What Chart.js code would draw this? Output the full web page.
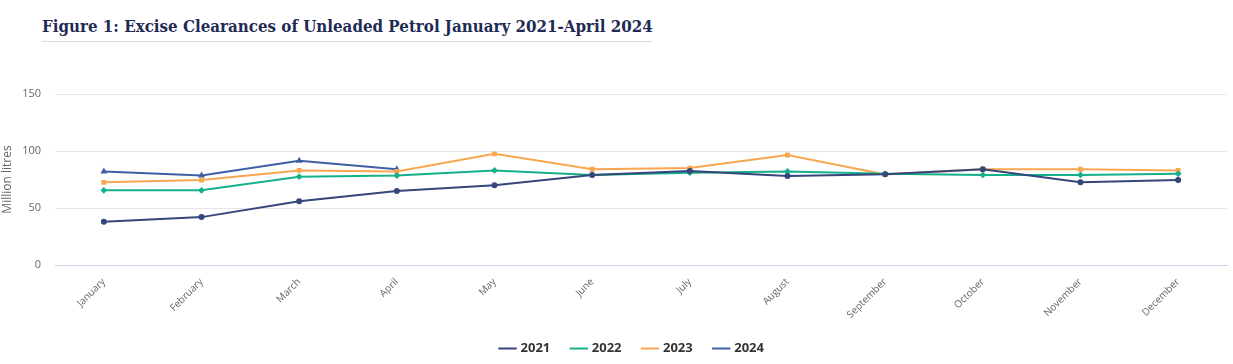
<!DOCTYPE html>
<html>
<head>
    <title>Excise Clearances of Unleaded Petrol</title>
    <script src="https://cdn.jsdelivr.net/npm/chart.js"></script>
    <style>
        body { margin: 0; background: #fff; width: 1233px; height: 364px; overflow: hidden; position: relative; }
        h2 {
            position: absolute; left: 42px; top: 16px; margin: 0;
            width: 610px; padding-bottom: 5px; white-space: nowrap;
            border-bottom: 1px solid #d5dbe4;
            font-family: "DejaVu Serif Condensed", "DejaVu Serif", serif;
            font-stretch: condensed; font-weight: bold; font-size: 16.8px;
            color: #1f2b55;
        }
        .chart-box { position: absolute; left: 0; top: 60px; width: 1233px; height: 305px; }
    </style>
</head>
<body>
    <h2>Figure 1: Excise Clearances of Unleaded Petrol January 2021-April 2024</h2>
    <div class="chart-box">
        <canvas id="petrolChart"></canvas>
    </div>

    <script>
        // Months on the x axis
        var months = ['January', 'February', 'March', 'April', 'May', 'June',
            'July', 'August', 'September', 'October', 'November', 'December'];

        // Million litres per month
        var y2021 = [38, 42, 56, 65, 70, 79, 82.5, 78, 79.5, 84, 72.5, 74.5];
        var y2022 = [65.5, 65.5, 77.5, 78.5, 83, 79, 81, 82, 80, 79, 79, 80];
        var y2023 = [72.5, 74.5, 83, 82, 97.5, 84, 85, 96.5, 79.5, 84, 84, 83];
        var y2024 = [82, 78.5, 91.5, 84];

        var yTicks = [0, 50, 100, 150];

        function serie(label, data, color, shape) {
            return {
                label: label,
                data: data,
                borderColor: color,
                backgroundColor: color,
                borderWidth: 2,
                pointStyle: shape,
                pointRadius: 2,
                pointHoverRadius: 4,
                tension: 0
            };
        }

        // legend sits a bit right of the canvas centre in the original
        var legendShift = {
            id: 'legendShift',
            afterLayout: function (chart) {
                if (chart.legend) {
                    chart.legend.left += 17;
                    chart.legend.right += 17;
                }
            }
        };

        var ctx = document.getElementById('petrolChart').getContext('2d');
        var chart = new Chart(ctx, {
            type: 'line',
            data: {
                labels: months,
                datasets: [
                    serie('2021', y2021, '#34467a', 'circle'),
                    serie('2022', y2022, '#14b08a', 'rectRot'),
                    serie('2023', y2023, '#f9a650', 'rect'),
                    serie('2024', y2024, '#3f5ea8', 'triangle')
                ]
            },
            plugins: [legendShift],
            options: {
                responsive: true,
                maintainAspectRatio: false,
                animation: false,
                layout: { padding: { top: 34, right: 2, left: 0, bottom: 0 } },
                plugins: {
                    legend: {
                        position: 'bottom',
                        labels: {
                            usePointStyle: true,
                            pointStyle: 'line',
                            boxWidth: 16,
                            padding: 22,
                            color: '#333',
                            font: { family: 'Open Sans', size: 13, weight: 'bold' }
                        }
                    },
                    tooltip: { enabled: true }
                },
                scales: {
                    x: {
                        offset: true,
                        grid: { display: false, offset: true },
                        border: { display: true, color: '#ccd6eb' },
                        ticks: {
                            color: '#666',
                            minRotation: 45,
                            maxRotation: 45,
                            padding: 3,
                            font: { family: 'Open Sans', size: 10 }
                        },
                        afterFit: function (scale) { scale.height = 55; }
                    },
                    y: {
                        min: 0,
                        max: 150,
                        afterBuildTicks: function (scale) {
                            scale.ticks = yTicks.map(function (v) { return { value: v }; });
                        },
                        grid: { color: '#e6e6e6', drawTicks: false },
                        border: { display: false },
                        ticks: {
                            color: '#666',
                            padding: 14,
                            font: { family: 'Open Sans', size: 11 }
                        },
                        title: {
                            display: true,
                            text: 'Million litres',
                            color: '#666',
                            padding: 0,
                            font: { family: 'Open Sans', size: 12 }
                        },
                        afterFit: function (scale) { scale.width = 55; }
                    }
                }
            }
        });
    </script>
</body>
</html>
